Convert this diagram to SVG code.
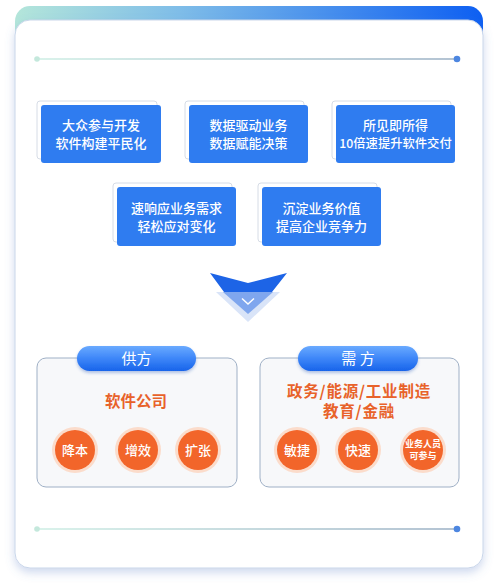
<svg xmlns="http://www.w3.org/2000/svg" width="499" height="584" viewBox="0 0 499 584">
<defs>
<linearGradient id="band" x1="0" y1="0" x2="1" y2="0">
<stop offset="0" stop-color="#b4e6da"/>
<stop offset="0.35" stop-color="#7fbde8"/>
<stop offset="1" stop-color="#0d5ff2"/>
</linearGradient>
<linearGradient id="line" gradientUnits="userSpaceOnUse" x1="37" y1="0" x2="457" y2="0">
<stop offset="0" stop-color="#cdeee4"/>
<stop offset="1" stop-color="#9aafc4"/>
</linearGradient>
<linearGradient id="pill" x1="0" y1="0" x2="0" y2="1">
<stop offset="0" stop-color="#6aaaff"/>
<stop offset="0.5" stop-color="#3d86f8"/>
<stop offset="1" stop-color="#1864ea"/>
</linearGradient>
<filter id="sh" x="-10%" y="-10%" width="120%" height="120%">
<feDropShadow dx="0" dy="4" stdDeviation="5" flood-color="#5a7fc8" flood-opacity="0.3"/>
</filter>
<filter id="psh" x="-10%" y="-20%" width="120%" height="160%">
<feDropShadow dx="0" dy="2" stdDeviation="1.5" flood-color="#2a5cb8" flood-opacity="0.35"/>
</filter>
</defs>
<style>
.box{fill:#2f7cf0;}
.back{fill:#ffffff;stroke:#d6dce6;stroke-width:1;}
.bt{font-family:"Noto Sans CJK SC",sans-serif;font-size:13px;fill:#ffffff;text-anchor:middle;font-weight:500;}
.panel{fill:#f7f8fa;stroke:#9fb0c6;stroke-width:1;}
.pt{font-family:"Noto Sans CJK SC",sans-serif;font-size:15px;fill:#ffffff;text-anchor:middle;}
.ot{font-family:"Noto Sans CJK SC",sans-serif;font-size:15.5px;fill:#e8622a;text-anchor:middle;font-weight:bold;}
.halo{fill:#fbdccb;}
.dot{fill:#f2652a;}
.ct{font-family:"Noto Sans CJK SC",sans-serif;font-size:13px;fill:#ffffff;text-anchor:middle;font-weight:500;}
.cs{font-family:"Noto Sans CJK SC",sans-serif;font-size:9px;fill:#ffffff;text-anchor:middle;font-weight:bold;}
</style>
<rect width="499" height="584" fill="#ffffff"/>
<g id="card">
<rect x="15" y="6" width="468" height="60" rx="15" fill="url(#band)"/>
<rect x="15" y="20" width="468" height="548" rx="15" fill="#ffffff" stroke="#c9d6ea" stroke-width="1" filter="url(#sh)"/>
</g>
<g id="lines">
<line x1="37" y1="59" x2="457" y2="59" stroke="url(#line)" stroke-width="1.5"/>
<circle cx="37" cy="59" r="2.8" fill="#c4e8dc"/>
<circle cx="457" cy="59" r="3.3" fill="#4d86e0"/>
<line x1="37" y1="529" x2="457" y2="529" stroke="url(#line)" stroke-width="1.5"/>
<circle cx="37" cy="529" r="2.8" fill="#c4e8dc"/>
<circle cx="457" cy="529" r="3.3" fill="#4d86e0"/>
</g>
<g id="n1">
<rect class="back" x="37" y="101" width="120" height="58" rx="3"/>
<rect class="box" x="41" y="105" width="120" height="58" rx="3"/>
<text class="bt" x="101" y="130">大众参与开发</text>
<text class="bt" x="101" y="148">软件构建平民化</text>
</g>
<g id="n2">
<rect class="back" x="185" y="101" width="119" height="58" rx="3"/>
<rect class="box" x="189" y="105" width="119" height="58" rx="3"/>
<text class="bt" x="248.5" y="130">数据驱动业务</text>
<text class="bt" x="248.5" y="148">数据赋能决策</text>
</g>
<g id="n3">
<rect class="back" x="332" y="101" width="119" height="58" rx="3"/>
<rect class="box" x="336" y="105" width="119" height="58" rx="3"/>
<text class="bt" x="395.5" y="130">所见即所得</text>
<text class="bt" x="395.5" y="148" style="font-size:12.3px">10倍速提升软件交付</text>
</g>
<g id="n4">
<rect class="back" x="113" y="183" width="119" height="59" rx="3"/>
<rect class="box" x="117" y="187" width="119" height="59" rx="3"/>
<text class="bt" x="176.5" y="213">速响应业务需求</text>
<text class="bt" x="176.5" y="231">轻松应对变化</text>
</g>
<g id="n5">
<rect class="back" x="258" y="183" width="119" height="59" rx="3"/>
<rect class="box" x="262" y="187" width="119" height="59" rx="3"/>
<text class="bt" x="321.5" y="213">沉淀业务价值</text>
<text class="bt" x="321.5" y="231">提高企业竞争力</text>
</g>
<g id="arrow">
<polygon points="216,292 280,292 248,322" fill="#d9e4f8"/>
<polygon points="223,292 273,292 248,314" fill="#7fa6ee"/>
<polygon points="210,273 248,283 287,273 272,292 224,292" fill="#1d64e6"/>
<polyline points="242,298.5 248,304 254,298.5" fill="none" stroke="#ffffff" stroke-width="1.5"/>
</g>
<g id="supply">
<rect class="panel" x="37" y="358" width="200" height="129" rx="9"/>
<rect x="77" y="346" width="119" height="25" rx="12.5" fill="url(#pill)" filter="url(#psh)"/>
<text class="pt" x="136.5" y="364">供方</text>
<text class="ot" x="136" y="407">软件公司</text>
<circle class="halo" cx="75" cy="450" r="23"/>
<circle class="dot" cx="75" cy="450" r="20"/>
<text class="ct" x="75" y="455">降本</text>
<circle class="halo" cx="138" cy="450" r="23"/>
<circle class="dot" cx="138" cy="450" r="20"/>
<text class="ct" x="138" y="455">增效</text>
<circle class="halo" cx="198" cy="450" r="23"/>
<circle class="dot" cx="198" cy="450" r="20"/>
<text class="ct" x="198" y="455">扩张</text>
</g>
<g id="demand">
<rect class="panel" x="260" y="358" width="199" height="129" rx="9"/>
<rect x="298" y="346" width="120" height="25" rx="12.5" fill="url(#pill)" filter="url(#psh)"/>
<text class="pt" x="358" y="364">需 方</text>
<text class="ot" x="359" y="397" letter-spacing="0.8">政务/能源/工业制造</text>
<text class="ot" x="359" y="417" letter-spacing="0.8">教育/金融</text>
<circle class="halo" cx="297" cy="450" r="23"/>
<circle class="dot" cx="297" cy="450" r="20"/>
<text class="ct" x="297" y="455">敏捷</text>
<circle class="halo" cx="358" cy="450" r="23"/>
<circle class="dot" cx="358" cy="450" r="20"/>
<text class="ct" x="358" y="455">快速</text>
<circle class="halo" cx="423" cy="450" r="23"/>
<circle class="dot" cx="423" cy="450" r="20"/>
<text class="cs" x="423" y="447">业务人员</text>
<text class="cs" x="423" y="459">可参与</text>
</g>
</svg>
